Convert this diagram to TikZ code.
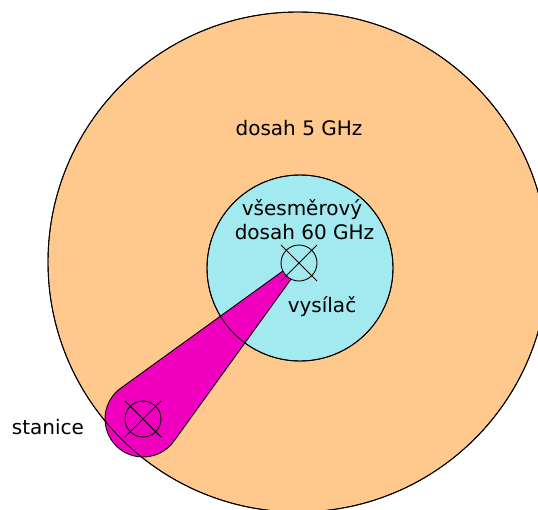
\documentclass[tikz,border=0pt]{standalone}
\usepackage{fontspec}
\setmainfont{DejaVu Sans}
\usetikzlibrary{calc}
\definecolor{rangeorange}{RGB}{255,200,140}
\definecolor{rangecyan}{RGB}{162,234,240}
\definecolor{beammagenta}{RGB}{240,0,190}
\tikzset{
  outline/.style={draw=black, line width=0.9pt},
  lbl/.style={anchor=base, inner sep=0pt, font=\fontsize{20}{24}\selectfont},
  antenna/.style={circle, draw=black, line width=0.9pt, minimum size=36pt, inner sep=0pt},
}
\begin{document}
\begin{tikzpicture}[x=1pt,y=1pt]
\useasboundingbox (0,0) rectangle (538,-509);
\clip (0,0) rectangle (538,-509);
% ranges
\node[circle, fill=rangeorange, outline, minimum size=500pt, inner sep=0pt] (range5) at (298,-262) {};
\node[circle, fill=rangecyan, outline, minimum size=186pt, inner sep=0pt] (range60) at (300,-268) {};
% antenna positions
\coordinate (txc) at (299,-263);
\coordinate (stc) at (143,-419);
% beam
\begin{scope}[shift={(txc)}, rotate=225]
  \fill[beammagenta, outline] (0,3) -- ($(220.6,0)+(99.13:38)$) arc[start angle=99.13, end angle=-99.13, radius=38] -- (0,-3) -- cycle;
\end{scope}
% circle outlines over beam
\draw[line width=0.9pt] (range5.center) circle[radius=250];
\draw[line width=0.9pt] (range60.center) circle[radius=93];
% transmitter
\node[antenna, fill=rangecyan] (tx) at (txc) {};
\draw[line width=0.9pt] ($(txc)+(-18,18)$) -- ($(txc)+(18,-18)$);
\draw[line width=0.9pt] ($(txc)+(-18,-18)$) -- ($(txc)+(18,18)$);
% station
\node[antenna] (st) at (stc) {};
\draw[line width=0.9pt] ($(stc)+(-18,18)$) -- ($(stc)+(18,-18)$);
\draw[line width=0.9pt] ($(stc)+(-18,-18)$) -- ($(stc)+(18,18)$);
% labels
\node[lbl] (l5) at (299,-135) {dosah 5 GHz};
\node[lbl] (l60a) at (302,-215) {všesměrový};
\node[lbl] (l60b) at (304.5,-239) {dosah 60 GHz};
\node[lbl] (ltx) at (322,-312) {vysílač};
\node[lbl] (lst) at (48,-434) {stanice};
\end{tikzpicture}
\end{document}
